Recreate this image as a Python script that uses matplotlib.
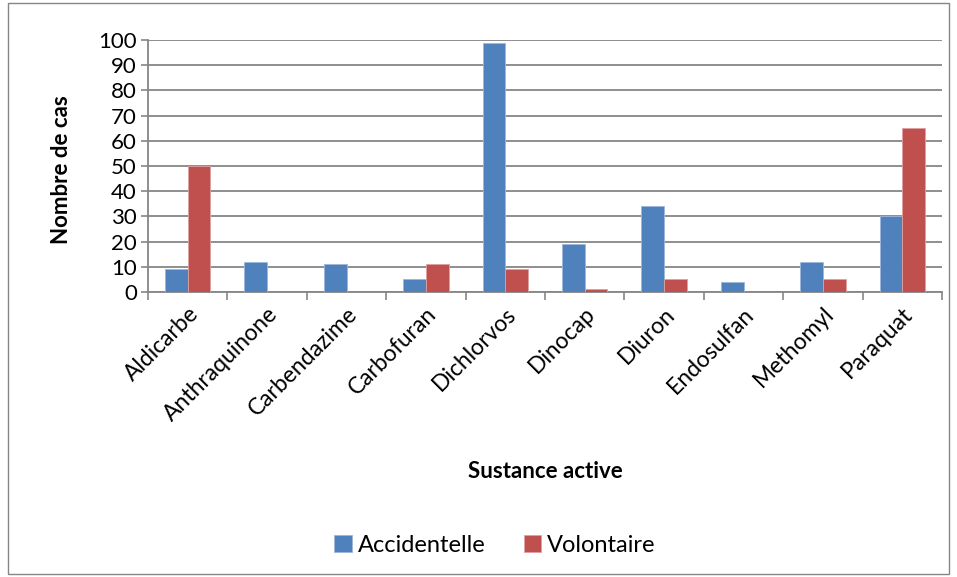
import matplotlib
matplotlib.use("Agg")
import matplotlib.pyplot as plt
import numpy as np
from matplotlib.patches import Rectangle

categories = ["Aldicarbe", "Anthraquinone", "Carbendazime", "Carbofuran", "Dichlorvos",
              "Dinocap", "Diuron", "Endosulfan", "Methomyl", "Paraquat"]
accidentelle = [9, 12, 11, 5, 99, 19, 34, 4, 12, 30]
volontaire = [50, 0, 0, 11, 9, 1, 5, 0, 5, 65]
yticks = list(range(0, 101, 10))

plt.rcParams['font.family'] = ['Lato', 'DejaVu Sans']

fig = plt.figure(figsize=(9.57, 5.77), dpi=100)
ax = fig.add_axes([148/957, 1-292/577, (942-148)/957, (292-40)/577])

x = np.arange(len(categories))
w = 0.285
blue = "#4F81BD"
red = "#C0504D"
ax.bar(x - w/2, accidentelle, w, color=blue, edgecolor="#9DB7DB", linewidth=0.6, label="Accidentelle", zorder=3)
ax.bar(x + w/2, volontaire, w, color=red, edgecolor="#E0A09E", linewidth=0.6, label="Volontaire", zorder=3)

ax.set_xlim(-0.5, len(categories) - 0.5)
ax.set_ylim(0, 100)
ax.set_yticks(yticks)
ax.set_yticklabels([str(t) for t in yticks], fontsize=16)
ax.yaxis.grid(True, color="#868686", linewidth=1.3, zorder=0)
ax.set_xticks(x)
ax.set_xticklabels(categories, rotation=45, ha="right", rotation_mode="anchor", fontsize=16.5)
ax.tick_params(axis="x", length=0, pad=8)
ax.set_xticks(np.arange(-0.5, len(categories), 1), minor=True)
ax.tick_params(axis="x", which="minor", length=6, color="#868686", width=1.2)
ax.tick_params(axis="y", length=5, color="#868686", width=1.2, pad=3)

for s in ["top", "right"]:
    ax.spines[s].set_visible(False)
for s in ["left", "bottom"]:
    ax.spines[s].set_color("#868686")
    ax.spines[s].set_linewidth(1.3)

fig.text(62/957, 1-170/577, "Nombre de cas", fontsize=16, fontweight="bold", rotation=90,
         ha="center", va="center")
fig.text(545/957, 1-472/577, "Sustance active", fontsize=16, fontweight="bold", ha="center", va="center")

leg = fig.legend(*ax.get_legend_handles_labels(), loc="center", bbox_to_anchor=(495/957, 1-545/577), ncol=2,
                 frameon=False, fontsize=17, handlelength=0.75, handleheight=0.75,
                 columnspacing=1.6, handletextpad=0.25)

fig.patches.append(Rectangle((8/957, 3/577), 1-16/957, 1-6/577, transform=fig.transFigure,
                             fill=False, edgecolor="#868686", linewidth=1.0))

fig.savefig("out.png", dpi=100)
